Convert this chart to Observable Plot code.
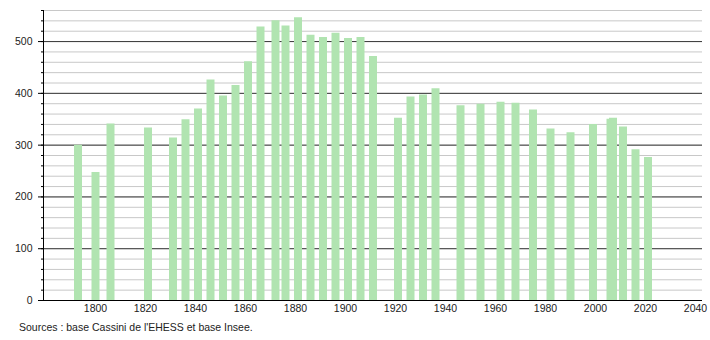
<!DOCTYPE html>
<html>
<head>
<meta charset="utf-8">
<script src="https://cdn.jsdelivr.net/npm/d3@7"></script>
<script src="https://cdn.jsdelivr.net/npm/@observablehq/plot@0.6"></script>
<style>
  html, body { margin: 0; padding: 0; background: #fff; }
  #chart { width: 710px; }
  .caption { font-family: "Liberation Sans", Arial, sans-serif; font-size: 10.5px; color: #222; margin: 5px 0 0 19px; line-height: 13px; }
</style>
</head>
<body>
<div id="chart"></div>
<div class="caption">Sources : base Cassini de l'EHESS et base Insee.</div>
<script>
const years = [1793, 1800, 1806, 1821, 1831, 1836, 1841, 1846, 1851, 1856, 1861, 1866, 1872, 1876, 1881, 1886, 1891, 1896, 1901, 1906, 1911, 1921, 1926, 1931, 1936, 1946, 1954, 1962, 1968, 1975, 1982, 1990, 1999, 2006, 2007, 2011, 2016, 2021];
const population = [300, 247, 341, 333, 314, 349, 370, 426, 395, 415, 461, 528, 540, 530, 546, 512, 508, 516, 506, 508, 471, 352, 393, 397, 409, 376, 379, 383, 381, 368, 331, 324, 340, 350, 352, 335, 291, 276];
const xTicks = [1800, 1820, 1840, 1860, 1880, 1900, 1920, 1940, 1960, 1980, 2000, 2020, 2040];
const yMajorTicks = [0, 100, 200, 300, 400, 500];
const yMinorTicks = d3.range(0, 561, 20);
const xDomain = [1779.2, 2042.8];
const yDomain = [0, 560];

const data = years.map((year, i) => ({year, pop: population[i]}));

const chart = Plot.plot({
  width: 710,
  height: 316,
  marginLeft: 43,
  marginRight: 8,
  marginTop: 10,
  marginBottom: 16,
  style: {fontFamily: "'Liberation Sans', Arial, sans-serif", fontSize: "10.5px", color: "#222", background: "#fff", overflow: "visible"},
  x: {domain: xDomain, label: null},
  y: {domain: yDomain, label: null},
  marks: [
    Plot.gridY(yMinorTicks, {stroke: "#c8c8c8", strokeOpacity: 1, strokeWidth: 1}),
    Plot.gridY(yMajorTicks, {stroke: "#3a3a3a", strokeOpacity: 1, strokeWidth: 1}),
    Plot.ruleX(data, {x: "year", y1: 0, y2: "pop", stroke: "#b1e4b1", strokeWidth: 8}),
    Plot.axisY({ticks: yMinorTicks, tickSize: 2, text: null, stroke: "#000"}),
    Plot.axisY({ticks: yMajorTicks, tickSize: 5, tickPadding: 6, stroke: "#000", fill: "#222"}),
    Plot.axisX({ticks: xTicks, tickSize: 0, tickPadding: 4, tickFormat: d3.format("d"), fill: "#222"}),
    Plot.ruleY([yDomain[0]], {stroke: "#000"}),
    Plot.ruleX([xDomain[0]], {stroke: "#000"})
  ]
});
document.getElementById("chart").appendChild(chart);
</script>
</body>
</html>
